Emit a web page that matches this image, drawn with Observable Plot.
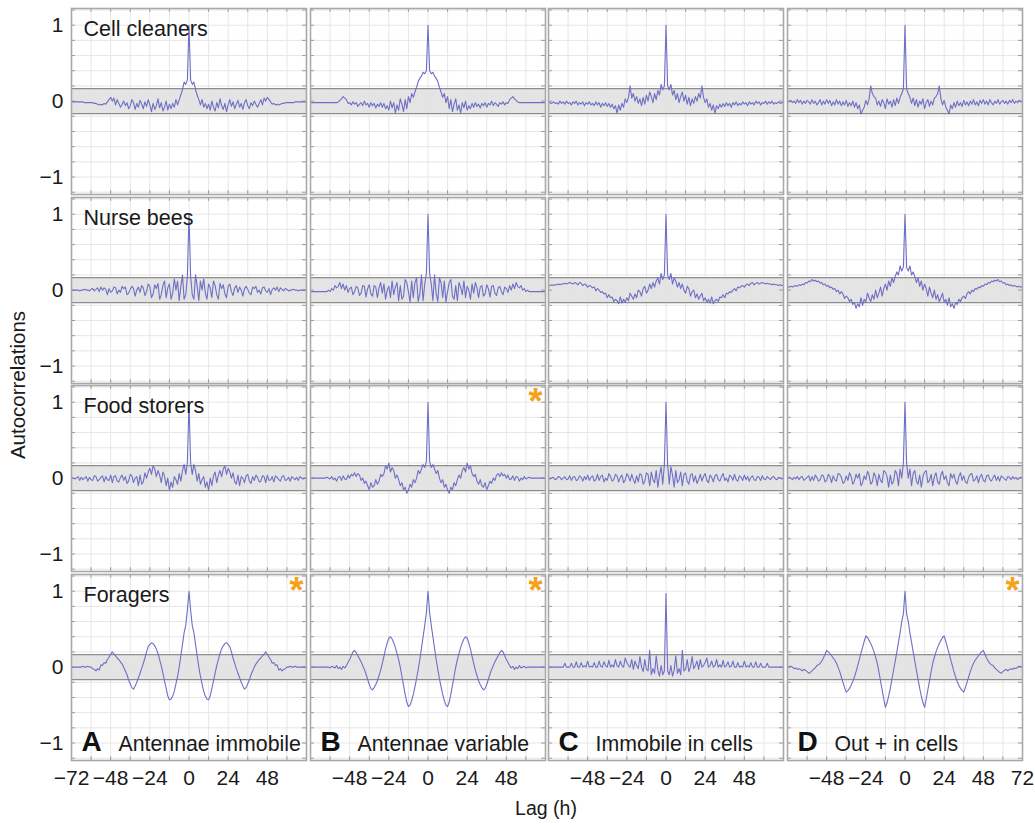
<!DOCTYPE html>
<html>
<head>
<meta charset="utf-8">
<script src="https://cdn.jsdelivr.net/npm/d3@7"></script>
<script src="https://cdn.jsdelivr.net/npm/@observablehq/plot@0.6"></script>
<style>
  html, body { margin: 0; padding: 0; background: #fff; }
  #chart { position: relative; width: 1035px; height: 824px; font-family: "Liberation Sans", Arial, sans-serif; color: #1a1a1a; overflow: hidden; }
  #chart svg { position: absolute; overflow: visible; }
  .ytitle { position: absolute; left: 18px; top: 385px; transform: translate(-50%, -50%) rotate(-90deg); font-size: 20.5px; white-space: nowrap; }
  .xtitle { position: absolute; left: 546px; top: 808px; transform: translate(-50%, -50%); font-size: 19.5px; white-space: nowrap; }
</style>
</head>
<body>
<div id="chart"></div>
<script>
// ---- labels ----
const rowNames = ["Cell cleaners", "Nurse bees", "Food storers", "Foragers"];
const colLetters = ["A", "B", "C", "D"];
const colNames = ["Antennae immobile", "Antennae variable", "Immobile in cells", "Out + in cells"];
const starPanels = ["Food storers|B", "Foragers|A", "Foragers|B", "Foragers|D"];

// ---- tick values ----
const xTicksA = [-72, -48, -24, 0, 24, 48];
const xTicksB = [-48, -24, 0, 24, 48];
const xTicksC = [-48, -24, 0, 24, 48];
const xTicksD = [-48, -24, 0, 24, 48, 72];
const yTicks = [-1, 0, 1];
const gridLags = [-60, -48, -36, -24, -12, 0, 12, 24, 36, 48, 60];
const gridR = [-1.2, -1, -0.8, -0.6, -0.4, -0.2, 0, 0.2, 0.4, 0.6, 0.8, 1, 1.2];
const confBand = [-0.165, 0.165];
const lagDomain = [-72, 72];
const rDomain = [-1.23, 1.22];

// ---- autocorrelation values at lag 0,1,...,72 h (symmetric in lag) ----
const cleanersA = [1.0,0.28,0.22,0.25,0.15,0.08,0.02,-0.05,0.02,-0.08,
  -0.03,-0.1,-0.04,-0.12,0.0,-0.08,-0.13,-0.02,-0.09,0.03,
  -0.06,-0.11,-0.03,-0.14,-0.05,0.02,-0.07,-0.01,-0.1,-0.04,
  0.01,-0.08,-0.03,-0.11,-0.02,0.02,-0.06,-0.1,-0.02,-0.06,
  0.0,-0.04,-0.08,-0.03,0.02,-0.05,0.04,0.0,0.05,0.02,
  -0.01,-0.04,-0.03,-0.05,-0.04,-0.05,-0.04,-0.03,-0.03,-0.02,
  -0.02,-0.02,-0.02,-0.02,-0.02,-0.01,-0.01,-0.01,-0.01,-0.01,
  -0.01,-0.01,-0.01];
const cleanersB = [1.0,0.4,0.36,0.38,0.33,0.3,0.26,0.18,0.12,0.05,
  0.1,-0.02,0.06,-0.1,0.02,-0.14,-0.04,0.03,-0.12,-0.05,
  -0.16,-0.02,-0.09,0.0,-0.12,-0.06,-0.1,-0.03,-0.08,-0.02,
  -0.07,-0.04,-0.09,-0.03,-0.06,-0.02,-0.08,-0.03,-0.05,0.0,
  -0.06,-0.02,-0.04,-0.07,-0.02,-0.04,-0.01,-0.05,-0.02,-0.03,
  0.02,0.04,0.06,0.03,0.01,-0.01,-0.02,-0.02,-0.02,-0.02,
  -0.02,-0.02,-0.02,-0.02,-0.02,-0.02,-0.02,-0.02,-0.02,-0.02,
  -0.02,-0.02,-0.02];
const cleanersC = [1.0,0.2,0.15,0.22,0.08,0.14,0.02,0.1,-0.02,0.06,
  0.12,0.0,0.08,-0.04,0.05,-0.06,0.03,-0.03,0.06,0.0,
  0.1,0.04,0.2,0.05,-0.02,0.03,-0.08,-0.03,-0.12,-0.05,
  -0.16,-0.06,-0.1,-0.04,-0.08,-0.03,-0.07,-0.02,-0.06,-0.03,
  -0.08,-0.02,-0.05,-0.01,-0.06,-0.03,-0.05,-0.01,-0.04,-0.02,
  -0.06,-0.01,-0.04,-0.02,-0.05,0.0,-0.03,-0.01,-0.05,-0.02,
  -0.03,0.0,-0.04,-0.01,-0.03,0.0,-0.04,-0.02,-0.03,-0.01,
  -0.03,-0.02,-0.02];
const cleanersD = [1.0,0.16,0.1,0.05,-0.03,0.04,-0.06,0.02,-0.08,0.0,
  -0.04,0.03,-0.1,-0.02,0.02,-0.07,0.0,-0.05,0.04,0.06,
  0.1,0.2,0.03,-0.05,0.01,-0.08,-0.12,-0.17,-0.05,-0.1,
  -0.02,-0.08,0.0,-0.06,-0.02,-0.07,0.01,-0.05,-0.01,-0.06,
  0.0,-0.04,0.02,-0.05,-0.01,-0.06,0.01,-0.03,0.02,-0.04,
  0.0,-0.05,0.02,-0.02,-0.05,0.0,-0.03,0.02,-0.04,-0.01,
  0.01,-0.03,0.0,-0.04,0.01,-0.02,0.02,-0.03,0.0,-0.02,
  0.01,-0.01,0.0];

const nursesA = [1.0,0.18,-0.06,-0.12,0.2,0.05,-0.14,0.12,0.0,0.15,
  -0.04,-0.12,0.08,0.03,-0.1,0.12,0.06,-0.06,-0.12,0.09,
  0.02,0.07,-0.05,-0.1,0.05,0.08,-0.02,-0.07,0.03,0.06,
  -0.03,0.04,0.0,-0.08,0.02,0.05,0.01,-0.04,-0.06,0.04,
  0.02,0.05,-0.03,0.0,-0.05,0.03,0.04,-0.01,-0.03,0.02,
  -0.06,0.01,0.03,0.0,0.04,-0.02,0.03,0.01,-0.01,0.02,
  0.01,-0.01,0.0,0.0,0.01,0.0,0.0,-0.01,0.0,0.0,
  0.0,0.0,0.0];
const nursesB = [1.0,0.22,0.08,-0.14,0.2,-0.05,-0.15,0.16,0.1,-0.1,
  0.12,-0.16,-0.02,0.1,0.14,-0.08,-0.12,0.06,-0.14,0.1,
  0.04,-0.06,0.12,-0.1,0.05,0.0,-0.12,0.08,-0.04,0.1,
  0.03,-0.1,0.04,0.06,-0.08,-0.05,0.07,0.02,-0.09,0.05,
  0.06,-0.04,-0.07,0.03,0.05,-0.02,-0.06,0.04,0.02,-0.03,
  0.06,0.0,0.08,0.02,0.1,0.05,0.03,0.06,0.0,0.02,
  -0.02,0.0,-0.02,-0.02,-0.02,-0.02,-0.02,-0.02,-0.02,-0.02,
  -0.02,-0.02,-0.02];
const nursesC = [1.0,0.2,0.14,0.22,0.08,0.16,0.12,0.04,0.1,0.02,
  0.08,0.0,-0.04,0.05,0.02,-0.08,-0.02,0.0,-0.1,-0.05,
  -0.12,-0.08,-0.04,-0.14,-0.1,-0.16,-0.12,-0.17,-0.09,-0.18,
  -0.14,-0.12,-0.15,-0.09,-0.1,-0.06,-0.1,-0.04,-0.05,-0.02,
  -0.03,0.0,0.02,-0.01,0.04,0.03,0.05,0.06,0.04,0.07,
  0.08,0.06,0.09,0.1,0.07,0.09,0.1,0.08,0.09,0.1,
  0.09,0.08,0.09,0.08,0.08,0.07,0.08,0.07,0.07,0.06,
  0.07,0.06,0.06];
const nursesD = [1.0,0.3,0.25,0.32,0.2,0.24,0.18,0.1,0.16,0.05,
  0.12,0.0,0.08,0.02,-0.08,0.04,-0.04,-0.1,0.0,-0.12,
  -0.06,-0.15,-0.1,-0.04,-0.16,-0.12,-0.2,-0.1,-0.22,-0.18,
  -0.24,-0.16,-0.19,-0.12,-0.15,-0.1,-0.08,-0.11,-0.05,-0.02,
  -0.05,0.0,-0.02,0.02,0.01,0.04,0.03,0.06,0.05,0.08,
  0.07,0.1,0.09,0.12,0.11,0.13,0.12,0.14,0.11,0.12,
  0.09,0.1,0.07,0.08,0.06,0.07,0.05,0.06,0.05,0.04,
  0.05,0.04,0.04];

const storersA = [1.0,0.2,0.05,0.18,0.1,-0.04,0.06,-0.08,-0.02,0.02,
  -0.12,-0.05,-0.16,0.0,-0.1,0.03,0.08,-0.06,0.04,0.1,
  0.02,0.12,0.16,0.05,0.13,0.08,0.0,0.07,-0.05,-0.08,
  0.04,-0.1,0.02,0.0,-0.06,0.03,0.05,-0.04,-0.07,0.02,
  -0.03,0.04,0.01,-0.05,-0.04,0.03,0.02,-0.06,0.04,-0.03,
  -0.02,0.02,-0.05,0.03,0.01,-0.02,-0.04,0.02,0.03,-0.03,
  -0.02,0.01,-0.04,0.02,0.0,-0.02,0.01,-0.03,0.02,0.0,
  -0.01,0.0,0.0];
const storersB = [1.0,0.22,0.14,0.18,0.12,0.06,0.1,0.0,-0.06,-0.02,
  -0.12,-0.08,-0.16,-0.2,-0.12,-0.15,-0.06,-0.1,-0.02,0.04,
  0.0,0.1,0.14,0.08,0.2,0.12,0.16,0.06,0.02,0.05,
  -0.04,-0.08,-0.02,-0.1,-0.12,-0.06,-0.15,-0.1,-0.04,-0.07,
  0.0,-0.03,0.04,0.06,0.02,0.07,0.03,0.05,0.0,0.04,
  -0.02,-0.01,0.03,-0.03,0.02,0.01,-0.04,0.0,-0.02,0.02,
  -0.01,0.0,0.01,0.0,0.0,0.0,0.0,0.0,0.0,0.0,
  0.0,0.0,0.0];
const storersC = [1.0,0.18,-0.08,0.15,0.04,-0.12,0.1,-0.06,-0.02,0.08,
  -0.1,0.05,0.07,-0.04,-0.08,0.04,0.06,-0.05,0.03,-0.07,
  -0.02,0.05,-0.04,0.02,0.06,-0.03,-0.06,0.04,0.01,-0.05,
  0.03,0.05,-0.02,-0.04,0.02,0.06,-0.03,0.0,-0.05,0.04,
  0.02,-0.03,0.05,-0.02,-0.04,0.03,0.01,-0.03,0.04,-0.02,
  0.02,-0.04,0.01,0.03,-0.02,-0.03,0.02,0.01,-0.03,0.03,
  -0.01,-0.02,0.02,0.0,-0.02,0.01,0.02,-0.01,-0.02,0.01,
  0.0,-0.01,0.0];
const storersD = [1.0,0.2,0.0,0.12,-0.1,0.06,0.1,-0.04,-0.08,0.04,
  -0.12,0.02,0.08,0.1,-0.06,-0.03,0.05,-0.1,0.02,0.07,
  -0.05,-0.08,0.04,0.09,-0.02,0.03,-0.06,-0.1,0.06,0.0,
  0.05,-0.04,-0.08,0.02,0.07,-0.03,0.03,-0.05,-0.07,0.01,
  0.05,0.06,-0.04,-0.02,0.03,-0.06,0.02,0.05,-0.03,-0.05,
  0.03,0.04,-0.02,-0.04,0.01,0.04,-0.03,0.02,-0.04,0.03,
  0.01,-0.01,-0.03,0.02,0.01,-0.02,0.02,-0.01,0.01,-0.02,
  0.0,0.01,0.0];

const foragersA = [1.0,0.75,0.55,0.45,0.3,0.15,0.0,-0.12,-0.22,-0.32,
  -0.38,-0.42,-0.43,-0.38,-0.28,-0.18,-0.08,0.02,0.1,0.18,
  0.24,0.28,0.31,0.32,0.3,0.27,0.2,0.12,0.05,-0.02,
  -0.08,-0.14,-0.2,-0.25,-0.29,-0.27,-0.22,-0.17,-0.1,-0.05,
  0.0,0.04,0.07,0.1,0.12,0.15,0.17,0.2,0.17,0.13,
  0.1,0.05,0.06,0.02,0.03,-0.04,-0.02,-0.05,-0.03,-0.02,
  0.0,0.0,0.01,0.0,0.0,0.01,0.0,0.0,0.0,0.0,
  0.0,0.0,0.0];
const foragersB = [1.0,0.72,0.55,0.4,0.25,0.1,-0.03,-0.15,-0.26,-0.36,
  -0.44,-0.5,-0.52,-0.46,-0.36,-0.24,-0.12,0.0,0.1,0.18,
  0.26,0.32,0.37,0.4,0.38,0.32,0.24,0.14,0.05,-0.04,
  -0.11,-0.18,-0.23,-0.27,-0.3,-0.28,-0.23,-0.16,-0.09,-0.03,
  0.02,0.07,0.11,0.15,0.19,0.22,0.2,0.15,0.1,0.06,
  0.02,-0.01,0.01,-0.03,0.0,-0.02,0.02,-0.01,0.0,0.01,
  -0.01,0.0,0.0,0.0,0.0,0.0,0.0,0.0,0.0,0.0,
  0.0,0.0,0.0];
const foragersC = [0.97,-0.05,-0.1,0.02,-0.12,-0.04,0.15,-0.08,-0.02,-0.1,
  0.22,-0.05,-0.03,0.1,-0.06,0.0,0.14,-0.02,0.02,0.08,
  -0.03,0.1,0.0,0.02,0.06,0.12,0.0,0.02,0.08,0.0,
  0.02,0.1,0.0,0.03,0.0,0.09,0.0,0.02,0.07,0.0,
  0.01,0.08,0.0,0.0,0.06,0.0,0.01,0.0,0.08,0.0,
  0.02,0.0,0.06,0.0,0.0,0.07,0.0,0.0,0.05,0.0,
  0.0,0.0,0.05,0.0,0.0,0.0,0.0,0.0,0.0,0.0,
  0.0,0.0,0.0];
const foragersD = [1.0,0.7,0.6,0.45,0.33,0.2,0.08,-0.04,-0.16,-0.28,
  -0.38,-0.47,-0.53,-0.42,-0.3,-0.18,-0.06,0.05,0.13,0.2,
  0.26,0.31,0.35,0.39,0.41,0.34,0.26,0.18,0.1,0.02,
  -0.06,-0.13,-0.19,-0.24,-0.28,-0.31,-0.33,-0.27,-0.2,-0.13,
  -0.06,0.0,0.05,0.09,0.12,0.15,0.18,0.2,0.22,0.17,
  0.12,0.08,0.05,0.03,0.02,-0.01,-0.03,-0.05,-0.07,-0.08,
  -0.06,-0.04,-0.03,-0.05,-0.03,-0.02,-0.03,-0.01,-0.02,0.0,
  0.01,0.0,0.01];

// ---- assemble ----
const seriesGrid = [
  [cleanersA, cleanersB, cleanersC, cleanersD],
  [nursesA, nursesB, nursesC, nursesD],
  [storersA, storersB, storersC, storersD],
  [foragersA, foragersB, foragersC, foragersD]
];
const xTicksByCol = [xTicksA, xTicksB, xTicksC, xTicksD];
const bandRows = [{lo: confBand[0], hi: confBand[1]}];

function mirror(arr) {
  const n = arr.length - 1;
  const out = [];
  for (let lag = -n; lag <= n; lag++) out.push({lag, r: arr[Math.abs(lag)]});
  return out;
}
const fmt = d => (d < 0 ? "\u2212" + Math.abs(d) : String(d));

// layout
const panelW = 235, panelH = 186, stepX = 238.7, stepY = 188.6, originX = 71, originY = 8;
const FONT = '"Liberation Sans", Arial, Helvetica, sans-serif';
const chart = document.getElementById("chart");

for (let ri = 0; ri < 4; ri++) {
  for (let ci = 0; ci < 4; ci++) {
    const data = mirror(seriesGrid[ri][ci]);
    const isLeft = ci === 0, isRight = ci === 3, isBottom = ri === 3;
    const mL = isLeft ? 50 : 0, mR = isRight ? 14 : 0, mB = isBottom ? 34 : 0, mT = 0;
    const tickLenR = 0.05, tickLenLag = 2.4;
    const marks = [
      Plot.ruleX(gridLags, {stroke: "#e6e6e6", strokeWidth: 1}),
      Plot.ruleY(gridR, {stroke: "#e6e6e6", strokeWidth: 1}),
      Plot.rect(bandRows, {x1: lagDomain[0], x2: lagDomain[1], y1: "lo", y2: "hi", fill: "#e2e2e2", fillOpacity: 0.92}),
      Plot.ruleY(confBand, {stroke: "#8d8d8d", strokeWidth: 1.3}),
      Plot.ruleX(gridLags, {y1: rDomain[1], y2: rDomain[1] - tickLenR, stroke: "#9a9a9a"}),
      Plot.ruleX(gridLags, {y1: rDomain[0], y2: rDomain[0] + tickLenR, stroke: "#9a9a9a"}),
      Plot.ruleY(gridR, {x1: lagDomain[0], x2: lagDomain[0] + tickLenLag, stroke: "#9a9a9a"}),
      Plot.ruleY(gridR, {x1: lagDomain[1], x2: lagDomain[1] - tickLenLag, stroke: "#9a9a9a"}),
      Plot.line(data, {x: "lag", y: "r", stroke: "#6f6fc6", strokeWidth: 1.1}),
      Plot.frame({stroke: "#a8a8a8", strokeWidth: 1.6})
    ];
    if (isLeft) {
      marks.push(Plot.text([rowNames[ri]], {text: d => d, frameAnchor: "top-left", textAnchor: "start", lineAnchor: "top", dx: 12, dy: 12, fontSize: 21.5, fill: "#1a1a1a"}));
    }
    if (starPanels.includes(rowNames[ri] + "|" + colLetters[ci])) {
      marks.push(Plot.text(["*"], {text: d => d, frameAnchor: "top-right", textAnchor: "end", lineAnchor: "top", dx: -3, dy: 3, fontSize: 36, fontWeight: "bold", fill: "#f4a11b"}));
    }
    if (isBottom) {
      marks.push(Plot.text([colLetters[ci]], {text: d => d, frameAnchor: "bottom-left", textAnchor: "start", lineAnchor: "bottom", dx: 10, dy: -10, fontSize: 28, fontWeight: "bold", fill: "#111"}));
      marks.push(Plot.text([colNames[ci]], {text: d => d, frameAnchor: "bottom-left", textAnchor: "start", lineAnchor: "bottom", dx: 47, dy: -10, fontSize: 21.3, fill: "#1a1a1a"}));
    }
    const svg = Plot.plot({
      width: mL + panelW + mR,
      height: mT + panelH + mB,
      marginLeft: mL, marginRight: mR, marginTop: mT, marginBottom: mB,
      style: {fontFamily: FONT, fontSize: "21px", color: "#1a1a1a", background: "transparent", overflow: "visible"},
      x: {domain: lagDomain, axis: isBottom ? "bottom" : null, ticks: xTicksByCol[ci], tickSize: 0, tickPadding: 10, tickFormat: fmt, label: null},
      y: {domain: rDomain, axis: isLeft ? "left" : null, ticks: yTicks, tickSize: 0, tickPadding: 8, tickFormat: fmt, label: null},
      marks
    });
    svg.style.left = (originX + ci * stepX - mL) + "px";
    svg.style.top = (originY + ri * stepY - mT) + "px";
    chart.appendChild(svg);
  }
}

const yt = document.createElement("div");
yt.className = "ytitle"; yt.textContent = "Autocorrelations";
chart.appendChild(yt);
const xt = document.createElement("div");
xt.className = "xtitle"; xt.textContent = "Lag (h)";
chart.appendChild(xt);
</script>
</body>
</html>
